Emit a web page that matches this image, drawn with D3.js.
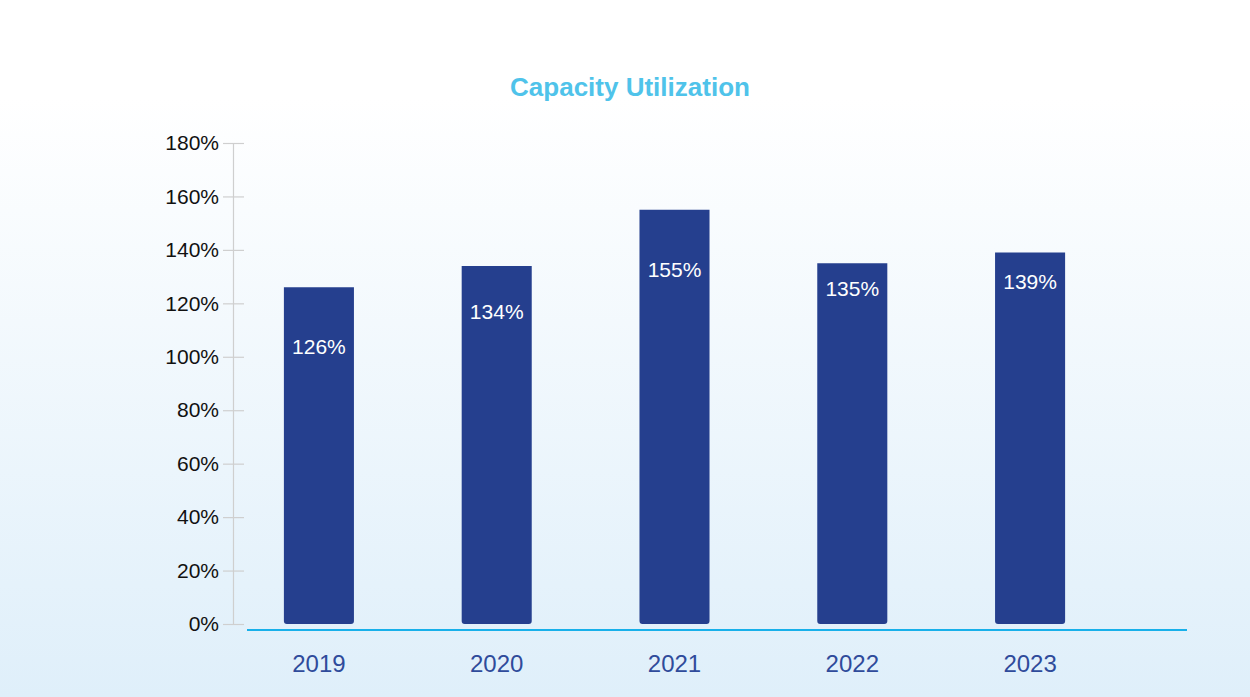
<!DOCTYPE html>
<html>
  <head>
    <title>Capacity Utilization</title>
    <style>
      body {
        margin: 0;
        background: #fff;
      }
    </style>
    <script src="https://d3js.org/d3.v7.min.js"></script>
  </head>
  <body>
    <svg id="chart" width="1250" height="697"></svg>
  </body>

  <script>
    var years = ['2019', '2020', '2021', '2022', '2023'];
    var utilization = [126, 134, 155, 135, 139];
    var yTicks = [0, 20, 40, 60, 80, 100, 120, 140, 160, 180];

    var svg = d3.select('#chart'),
      width = +svg.attr('width'),
      height = +svg.attr('height');

    var font = "'Liberation Sans', Arial, Helvetica, sans-serif";

    // the value labels sit at uneven depths inside the bars in the original
    var labelDrop = [67, 53, 67, 33, 36];

    // soft blue backdrop
    var defs = svg.append('defs');
    var grad = defs
      .append('linearGradient')
      .attr('id', 'bg')
      .attr('x1', 0)
      .attr('y1', 0)
      .attr('x2', 0)
      .attr('y2', 1);
    grad.append('stop').attr('offset', '0%').attr('stop-color', '#ffffff');
    grad.append('stop').attr('offset', '14%').attr('stop-color', '#ffffff');
    grad.append('stop').attr('offset', '100%').attr('stop-color', '#dfeffa');

    svg
      .append('rect')
      .attr('width', width)
      .attr('height', height)
      .attr('fill', 'url(#bg)');

    var x = d3
      .scaleBand()
      .domain(years)
      .range([195, 1154])
      .paddingInner(0.606)
      .paddingOuter(0.5);

    var y = d3.scaleLinear().domain([0, 180]).range([624, 143]);

    svg
      .append('text')
      .attr('x', 630)
      .attr('y', 96)
      .attr('text-anchor', 'middle')
      .attr('fill', '#4fc3ea')
      .style('font', 'bold 26px ' + font)
      .text('Capacity Utilization');

    var yAxis = svg
      .append('g')
      .attr('transform', 'translate(233,0)')
      .call(
        d3
          .axisLeft(y)
          .tickValues(yTicks)
          .tickFormat((d) => d + '%')
          .tickSize(0)
          .tickPadding(14)
      );
    yAxis.select('.domain').attr('stroke', '#cfcfcf').attr('stroke-width', 1.2);
    yAxis
      .selectAll('.tick')
      .append('line')
      .attr('x1', -10)
      .attr('x2', 11)
      .attr('stroke', '#cfcfcf')
      .attr('stroke-width', 1.2);
    yAxis
      .selectAll('.tick text')
      .attr('fill', '#111')
      .style('font', '21px ' + font);

    // bars, rounded only on the bottom corners
    var r = 3;
    function barPath(d, i) {
      var x0 = x(years[i]),
        x1 = x0 + x.bandwidth(),
        y0 = y(d),
        y1 = y(0);
      return (
        'M' + x0 + ',' + y0 +
        'H' + x1 +
        'V' + (y1 - r) +
        'Q' + x1 + ',' + y1 + ' ' + (x1 - r) + ',' + y1 +
        'H' + (x0 + r) +
        'Q' + x0 + ',' + y1 + ' ' + x0 + ',' + (y1 - r) +
        'Z'
      );
    }

    svg
      .append('g')
      .selectAll('path')
      .data(utilization)
      .join('path')
      .attr('d', barPath)
      .attr('fill', '#253f8e');

    svg
      .append('g')
      .selectAll('text')
      .data(utilization)
      .join('text')
      .attr('x', (d, i) => x(years[i]) + x.bandwidth() / 2)
      .attr('y', (d, i) => y(d) + labelDrop[i])
      .attr('text-anchor', 'middle')
      .attr('fill', '#fff')
      .style('font', '21px ' + font)
      .text((d) => d + '%');

    // baseline
    svg
      .append('line')
      .attr('x1', 247)
      .attr('x2', 1187)
      .attr('y1', 630)
      .attr('y2', 630)
      .attr('stroke', '#18b0ea')
      .attr('stroke-width', 2);

    svg
      .append('g')
      .selectAll('text')
      .data(years)
      .join('text')
      .attr('x', (d) => x(d) + x.bandwidth() / 2)
      .attr('y', 672)
      .attr('text-anchor', 'middle')
      .attr('fill', '#2f4b9b')
      .style('font', '24px ' + font)
      .text((d) => d);
  </script>
</html>
